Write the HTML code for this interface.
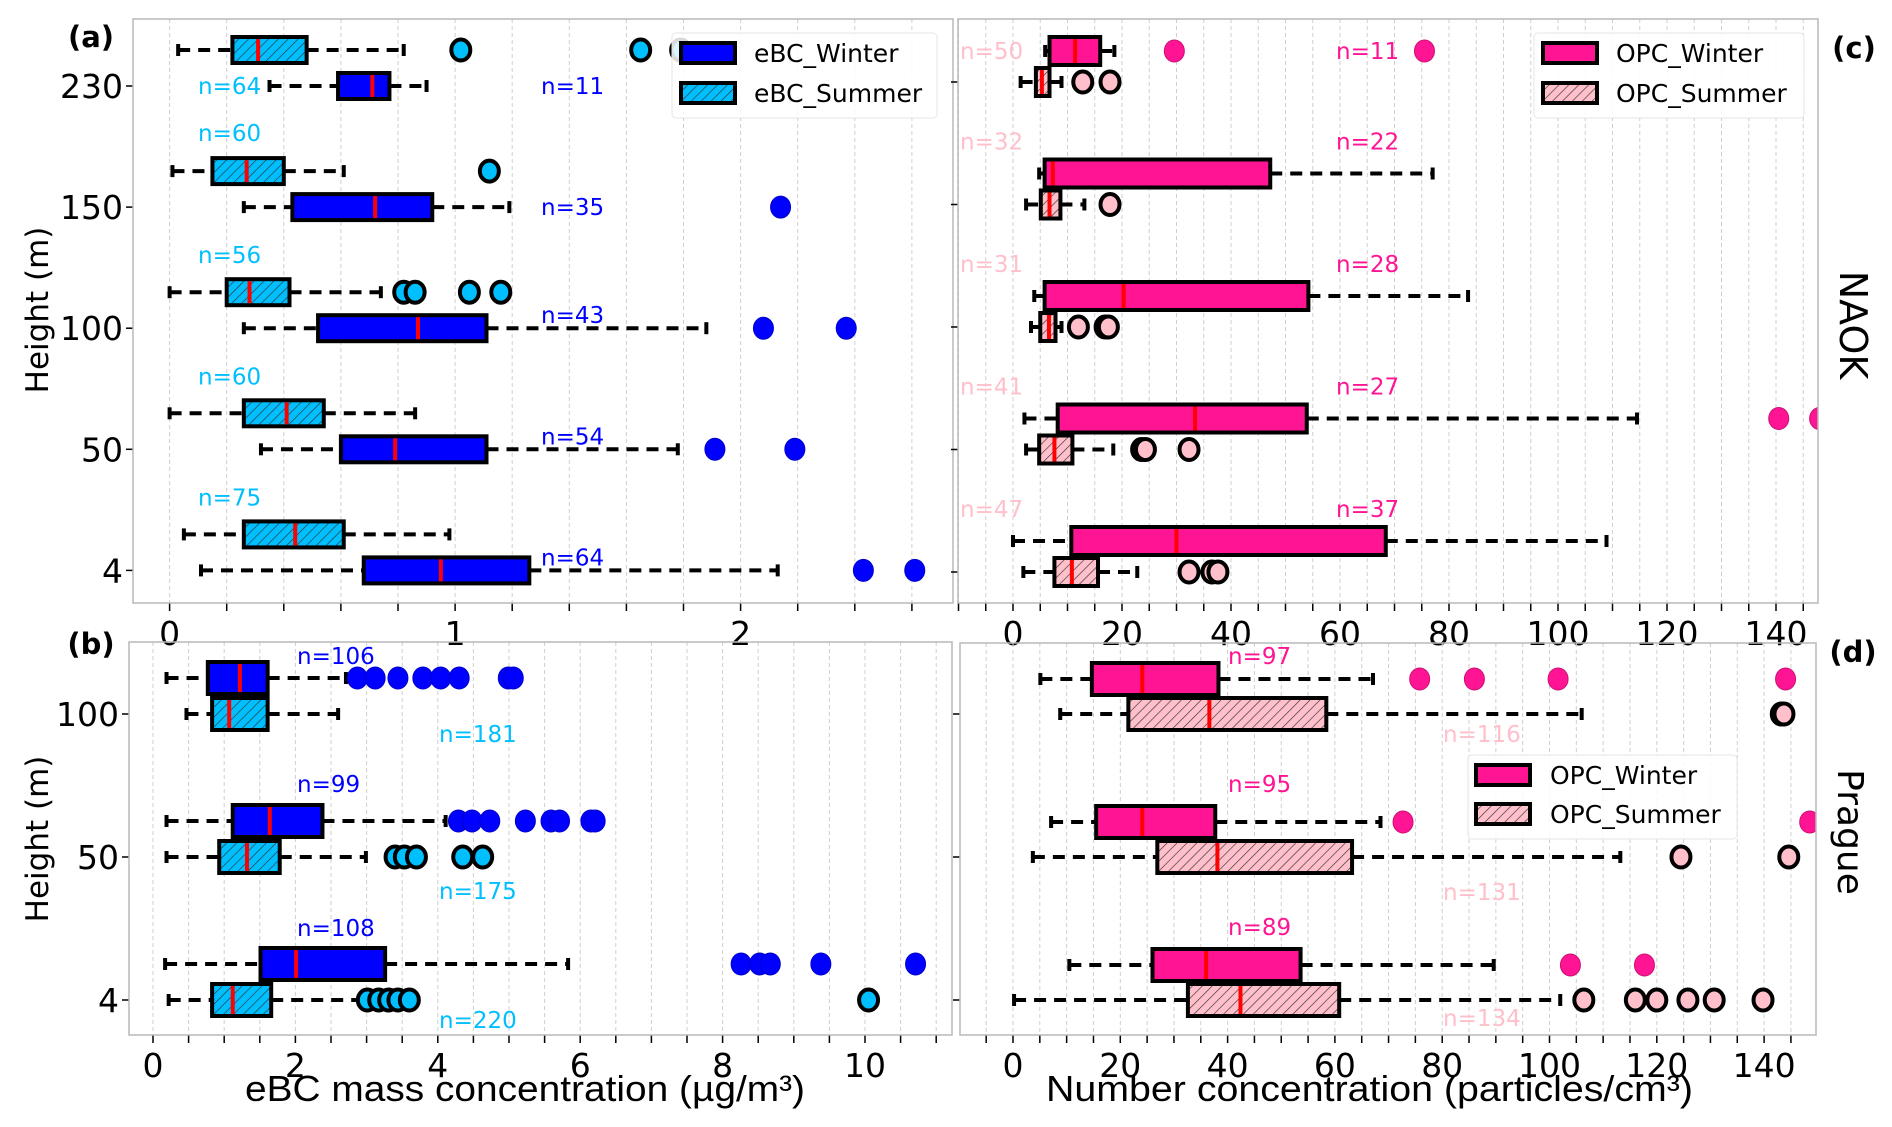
<!DOCTYPE html>
<html><head><meta charset="utf-8"><style>
html,body{margin:0;padding:0;background:#fff;}
svg{display:block;font-family:"DejaVu Sans","Liberation Sans",sans-serif;}
</style></head><body>
<svg id="fig" width="1892" height="1127" viewBox="0 0 1892 1127" xmlns="http://www.w3.org/2000/svg">
<defs>
<pattern id="hatch" patternUnits="userSpaceOnUse" width="7" height="7" patternTransform="rotate(45)">
<line x1="0" y1="0" x2="0" y2="7" stroke="#333" stroke-width="1.3"/>
</pattern>
</defs>
</svg>
<script>
// ---- data ----
const heightsTop = ['230','150','100','50','4'];
const heightsBottom = ['100','50','4'];
// [lo, q1, median, q3, hi]
const aWinter = [[0.35,0.59,0.71,0.77,0.90],[0.26,0.43,0.72,0.92,1.19],[0.26,0.52,0.87,1.11,1.88],[0.32,0.60,0.79,1.11,1.78],[0.11,0.68,0.95,1.26,2.13]];
const aSummer = [[0.03,0.22,0.31,0.48,0.82],[0.01,0.15,0.27,0.40,0.61],[0.0,0.20,0.28,0.42,0.74],[0.0,0.26,0.41,0.54,0.86],[0.05,0.26,0.44,0.61,0.98]];
const aWinterOut = [[],[2.14],[2.08,2.37],[1.91,2.19],[2.43,2.61]];
const aSummerOut = [[1.02,1.65,1.79],[1.12],[0.82,0.86,1.05,1.16],[],[]];
const aWinterN = ['n=11','n=35','n=43','n=54','n=64'];
const aSummerN = ['n=64','n=60','n=56','n=60','n=75'];

const bWinter = [[0.19,0.77,1.22,1.61,2.71],[0.19,1.12,1.64,2.38,4.11],[0.17,1.51,2.01,3.26,5.83]];
const bSummer = [[0.47,0.83,1.07,1.61,2.60],[0.19,0.93,1.32,1.78,2.99],[0.22,0.83,1.12,1.66,2.90]];
const bWinterOut = [[2.87,3.12,3.44,3.79,4.04,4.30,4.99,5.06],[4.29,4.48,4.73,5.23,5.59,5.71,6.15,6.21],[8.26,8.52,8.67,9.38,10.71]];
const bSummerOut = [[],[3.40,3.53,3.70,4.35,4.63],[3.01,3.17,3.31,3.44,3.60,10.05]];
const bWinterN = ['n=106','n=99','n=108'];
const bSummerN = ['n=181','n=175','n=220'];

const cWinter = [[5.9,6.7,11.4,16.0,18.6],[4.8,5.8,7.3,47.2,77.0],[3.9,5.8,20.3,54.2,83.5],[2.1,8.2,33.4,53.9,114.5],[0.0,10.7,30.0,68.4,108.9]];
const cSummer = [[1.4,4.2,5.3,6.7,8.9],[2.4,5.1,6.7,8.7,13.1],[3.3,5.0,6.6,7.8,8.9],[2.4,4.8,7.6,10.9,18.4],[1.9,7.6,10.8,15.6,22.8]];
const cWinterOut = [[29.6,75.5],[],[],[140.5,148.0],[]];
const cSummerOut = [[12.8,17.8],[17.8],[12.0,16.9,17.5],[23.6,24.3,32.3],[32.3,36.5,37.6]];
const cWinterN = ['n=11','n=22','n=28','n=27','n=37'];
const cSummerN = ['n=50','n=32','n=31','n=41','n=47'];

const dWinter = [[5.1,14.7,24.1,38.3,67.1],[7.1,15.5,24.1,37.7,68.5],[10.5,26.0,36.0,53.6,89.6]];
const dSummer = [[8.8,21.5,36.6,58.4,106.0],[3.7,26.9,38.1,63.2,113.2],[0.2,32.6,42.4,60.8,102.0]];
const dWinterOut = [[75.8,86.0,101.6,144.0],[72.7,148.5],[103.9,117.7]];
const dSummerOut = [[143.2,143.7],[124.5,144.6],[106.4,116.0,120.0,125.8,130.7,139.8]];
const dWinterN = ['n=97','n=95','n=89'];
const dSummerN = ['n=116','n=131','n=134'];

const aTicks = ['0','1','2'];
const bTicks = ['0','2','4','6','8','10'];
const cTicks = ['0','20','40','60','80','100','120','140'];

// ---- drawing ----
const NS = 'http://www.w3.org/2000/svg';
const svg = document.getElementById('fig');
function mk(tag, attrs, parent) {
  const e = document.createElementNS(NS, tag);
  for (const k in attrs) e.setAttribute(k, attrs[k]);
  (parent || svg).appendChild(e);
  return e;
}
function txt(s, attrs, parent) { const t = mk('text', attrs, parent); t.textContent = s; return t; }

let clipId = 0;
function panel(P) {
  const g = mk('g', {});
  
  
  const x = v => P.x0 + v * P.ux;
  const y = i => P.yTop + i * P.ystep;
  const [L, R, T, B] = P.frame;
  for (let v = P.gridStart; x(v) < R; v += P.gridStep) {
    if (x(v) <= L) continue;
    const gl = mk('line', {x1: x(v), x2: x(v), y1: T, y2: B, stroke: '#cfcfcf', 'stroke-width': 1, 'stroke-dasharray': '4,3'}, g);
    
    
  }
  for (let v = P.gridStart; x(v) <= R + 0.5; v += P.gridStep) {
    if (x(v) < L - 0.5) continue;
    const tk = mk('line', {x1: x(v), x2: x(v), y1: B, y2: B + 8, stroke: '#000', 'stroke-width': 1.5}, g);
    
    
  }
  P.tickLabels.forEach(s => {
    const lb = txt(s, {x: x(parseFloat(s)), y: B + 42, 'font-size': 33, 'text-anchor': 'middle', fill: '#000'}, g);
    
    
  });
  const cid = 'clip' + (clipId++);
  const cp = mk('clipPath', {id: cid}, g);
  mk('rect', {x: L, y: T, width: R - L, height: B - T}, cp);
  const plot = mk('g', {'clip-path': 'url(#' + cid + ')'}, g);
  P.cats.forEach((c, i) => {
    const tk = mk('line', {x1: L - 7, x2: L, y1: y(i), y2: y(i), stroke: '#000', 'stroke-width': 1.5}, g);
    
    
    if (P.yLabels) {
      const lb = txt(c, {x: L - 10, y: y(i) + 12, 'font-size': 33, 'text-anchor': 'end'}, g);
      
      
    }
  });
  function box(stats, yc, hh, fill, hatch, name) {
    const [lo, q1, md, q3, hi] = stats;
    const bg = mk('g', {}, plot);
    
    
    mk('line', {x1: x(lo), x2: x(q1), y1: yc, y2: yc, stroke: '#000', 'stroke-width': 4, 'stroke-dasharray': '12,8'}, bg);
    mk('line', {x1: x(q3), x2: x(hi), y1: yc, y2: yc, stroke: '#000', 'stroke-width': 4, 'stroke-dasharray': '12,8'}, bg);
    mk('line', {x1: x(lo), x2: x(lo), y1: yc - 6, y2: yc + 6, stroke: '#000', 'stroke-width': 4}, bg);
    mk('line', {x1: x(hi), x2: x(hi), y1: yc - 6, y2: yc + 6, stroke: '#000', 'stroke-width': 4}, bg);
    mk('rect', {x: x(q1), y: yc - hh, width: x(q3) - x(q1), height: 2 * hh, fill: fill, stroke: 'none'}, bg);
    if (hatch) mk('rect', {x: x(q1), y: yc - hh, width: x(q3) - x(q1), height: 2 * hh, fill: 'url(#hatch)'}, bg);
    mk('rect', {x: x(q1), y: yc - hh, width: x(q3) - x(q1), height: 2 * hh, fill: 'none', stroke: '#000', 'stroke-width': 4}, bg);
    mk('line', {x1: x(md), x2: x(md), y1: yc - hh + 2, y2: yc + hh - 2, stroke: '#ff0000', 'stroke-width': 4}, bg);
  }
  P.cats.forEach((c, i) => {
    const yw = y(i) + P.wOff, ys = y(i) + P.sOff;
    box(P.winter[i], yw, P.hh, P.wColor, false, 'winter-box-' + c);
    box(P.summer[i], ys, P.hh, P.sColor, true, 'summer-box-' + c);
    P.winterOut[i].forEach(v => {
      const o = mk('ellipse', {cx: x(v), cy: yw, rx: 10, ry: 11, fill: P.wColor, stroke: P.wEdge, 'stroke-width': 1}, plot);
      
      
    });
    P.summerOut[i].forEach(v => {
      const o = mk('ellipse', {cx: x(v), cy: ys, rx: 9.5, ry: 10.5, fill: P.sColor, stroke: '#000', 'stroke-width': 4}, plot);
      
      
    });
    const wn = txt(P.winterN[i], {x: P.wnX, y: y(i) + P.wnDy[i] + 8, 'font-size': 23, fill: P.wColor}, g);
    
    
    const sn = txt(P.summerN[i], {x: P.snX, y: y(i) + P.snDy[i] + 8, 'font-size': 23, fill: P.sColor}, g);
    
    
  });
  const fr = mk('rect', {x: L, y: T, width: R - L, height: B - T, fill: 'none', stroke: '#b8b8b8', 'stroke-width': 1.5}, g);
  
  
}

panel({name: 'panel-a', frame: [133, 953, 19, 603], x0: 169.6, ux: 285.5, gridStart: 0, gridStep: 0.2,
  tickLabels: aTicks, cats: heightsTop, yTop: 86, ystep: 121.1, yLabels: true, wOff: 0, sOff: -36, hh: 13,
  winter: aWinter, summer: aSummer, winterOut: aWinterOut, summerOut: aSummerOut,
  wColor: '#0000ff', sColor: '#00bfff', wEdge: '#0000cc',
  winterN: aWinterN, summerN: aSummerN, wnX: 541, snX: 198,
  wnDy: [0, 0, -13, -13, -13], snDy: [0, -74, -73, -73, -73]});

panel({name: 'panel-c', frame: [958, 1818, 19, 603], x0: 1013, ux: 5.45, gridStart: -10, gridStep: 5,
  tickLabels: cTicks, cats: heightsTop, yTop: 82, ystep: 122.5, yLabels: false, wOff: -31, sOff: 0, hh: 14,
  winter: cWinter, summer: cSummer, winterOut: cWinterOut, summerOut: cSummerOut,
  wColor: '#ff1493', sColor: '#ffc0cb', wEdge: '#cc0f75',
  winterN: cWinterN, summerN: cSummerN, wnX: 1336, snX: 960,
  wnDy: [-31, -63, -63, -63, -63], snDy: [-31, -63, -63, -63, -63]});

panel({name: 'panel-b', frame: [129, 952, 642, 1035], x0: 153, ux: 71.2, gridStart: -0.5, gridStep: 0.5,
  tickLabels: bTicks, cats: heightsBottom, yTop: 714, ystep: 143, yLabels: true, wOff: -36, sOff: 0, hh: 16,
  winter: bWinter, summer: bSummer, winterOut: bWinterOut, summerOut: bSummerOut,
  wColor: '#0000ff', sColor: '#00bfff', wEdge: '#0000cc',
  winterN: bWinterN, summerN: bSummerN, wnX: 297, snX: 439,
  wnDy: [-58, -73, -72], snDy: [20, 34, 20]});

panel({name: 'panel-d', frame: [960, 1816, 643, 1035], x0: 1013, ux: 5.365, gridStart: -10, gridStep: 5,
  tickLabels: cTicks, cats: heightsBottom, yTop: 714, ystep: 143, yLabels: false, wOff: -35, sOff: 0, hh: 16,
  winter: dWinter, summer: dSummer, winterOut: dWinterOut, summerOut: dSummerOut,
  wColor: '#ff1493', sColor: '#ffc0cb', wEdge: '#cc0f75',
  winterN: dWinterN, summerN: dSummerN, wnX: 1228, snX: 1443,
  wnDy: [-58, -73, -73], snDy: [20, 35, 18]});

function legend(name, bx, by, bw, bh, px, textX, rows) {
  const g = mk('g', {});
  
  
  mk('rect', {x: bx, y: by, width: bw, height: bh, rx: 4, fill: '#fff', 'fill-opacity': 0.85, stroke: '#e6e6e6', 'stroke-width': 1}, g);
  rows.forEach(r => {
    const e = mk('g', {}, g);
    
    
    mk('rect', {x: px, y: r.y - 10, width: 54, height: 20, fill: r.fill}, e);
    if (r.hatch) mk('rect', {x: px, y: r.y - 10, width: 54, height: 20, fill: 'url(#hatch)'}, e);
    mk('rect', {x: px, y: r.y - 10, width: 54, height: 20, fill: 'none', stroke: '#000', 'stroke-width': 4}, e);
    txt(r.label, {x: textX, y: r.y + 9, 'font-size': 25}, e);
  });
}
legend('legend-ebc', 672, 33, 265, 85, 681, 754, [{y: 53, fill: '#0000ff', label: 'eBC_Winter'}, {y: 93, fill: '#00bfff', hatch: true, label: 'eBC_Summer'}]);
legend('legend-opc-naok', 1534, 33, 270, 85, 1543, 1616, [{y: 53, fill: '#ff1493', label: 'OPC_Winter'}, {y: 93, fill: '#ffc0cb', hatch: true, label: 'OPC_Summer'}]);
legend('legend-opc-prague', 1468, 755, 269, 84, 1476, 1550, [{y: 775, fill: '#ff1493', label: 'OPC_Winter'}, {y: 814, fill: '#ffc0cb', hatch: true, label: 'OPC_Summer'}]);

function label(s, attrs, name) {
  const t = txt(s, attrs);
  
  
  return t;
}
label('(a)', {x: 91, y: 47, 'font-size': 29, 'font-weight': 'bold', 'text-anchor': 'middle'}, 'panel-label-a');
label('(c)', {x: 1854, y: 58, 'font-size': 29, 'font-weight': 'bold', 'text-anchor': 'middle'}, 'panel-label-c');
label('(b)', {x: 91, y: 654, 'font-size': 29, 'font-weight': 'bold', 'text-anchor': 'middle'}, 'panel-label-b');
label('(d)', {x: 1853, y: 662, 'font-size': 29, 'font-weight': 'bold', 'text-anchor': 'middle'}, 'panel-label-d');
label('Height (m)', {x: 0, y: 0, 'font-size': 31, 'text-anchor': 'middle', transform: 'translate(48,310) rotate(-90)'}, 'y-axis-title-a');
label('Height (m)', {x: 0, y: 0, 'font-size': 31, 'text-anchor': 'middle', transform: 'translate(48,839) rotate(-90)'}, 'y-axis-title-b');
label('NAOK', {x: 0, y: 0, 'font-size': 38, 'text-anchor': 'middle', transform: 'translate(1840,325) rotate(90)'}, 'site-label-naok');
label('Prague', {x: 0, y: 0, 'font-size': 36, 'text-anchor': 'middle', transform: 'translate(1838,832) rotate(90)'}, 'site-label-prague');
label('eBC mass concentration (µg/m³)', {x: 245, y: 1101, 'font-size': 36, 'font-family': '"Liberation Sans Narrow","Liberation Sans",sans-serif', textLength: 560, lengthAdjust: 'spacingAndGlyphs'}, 'x-axis-title-ebc');
label('Number concentration (particles/cm³)', {x: 1046, y: 1101, 'font-size': 36, 'font-family': '"Liberation Sans Narrow","Liberation Sans",sans-serif', textLength: 647, lengthAdjust: 'spacingAndGlyphs'}, 'x-axis-title-opc');
</script>
</body></html>
